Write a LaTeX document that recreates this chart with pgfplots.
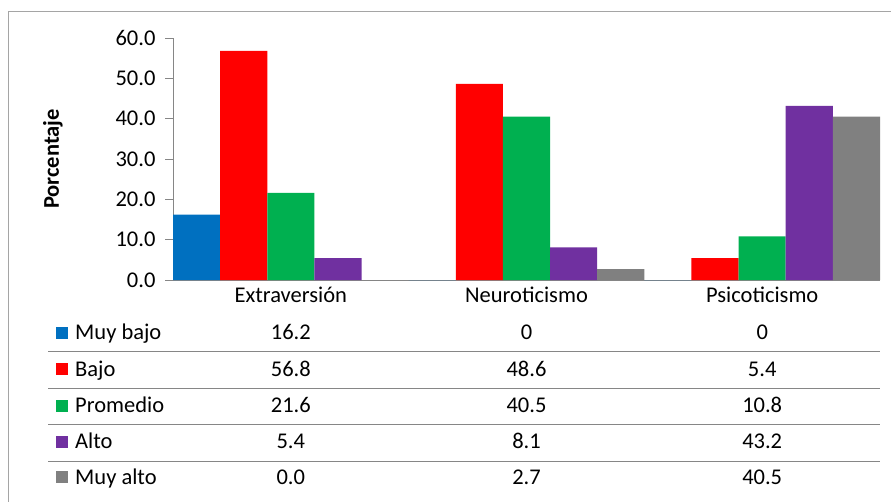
\documentclass[border=0pt]{standalone}
\usepackage{pgfplots}
\pgfplotsset{compat=1.18}
\usepackage{fontspec}
\setmainfont{Carlito}

\definecolor{cMuyBajo}{RGB}{0,112,192}
\definecolor{cBajo}{RGB}{255,0,0}
\definecolor{cProm}{RGB}{0,176,80}
\definecolor{cAlto}{RGB}{112,48,160}
\definecolor{cMuyAlto}{RGB}{128,128,128}
\definecolor{axisgray}{RGB}{134,134,134}
\definecolor{framegray}{RGB}{165,165,165}

\newcommand{\chartfont}{\fontsize{22.5bp}{26bp}\selectfont}

\begin{document}
\begin{tikzpicture}[x=1bp,y=1bp]
\useasboundingbox (0,0) rectangle (891,-502);
\draw[framegray, line width=1bp] (8,-502) -- (8,-12) -- (891,-12);
\begin{axis}[
    at={(173bp,-280bp)}, anchor=south west,
    scale only axis,
    width=707bp, height=242bp,
    xmin=-0.5, xmax=2.5,
    ymin=0, ymax=60,
    ytick={0,10,...,60},
    xtick=\empty,
    axis x line=bottom, axis y line=left,
    axis line style={-, axisgray, line width=1bp},
    y tick style={axisgray, line width=1bp},
    tick align=outside,
    major tick length=8bp,
    yticklabel style={xshift=-6bp, /pgf/number format/.cd, fixed, fixed zerofill, precision=1},
    /pgf/number format/assume math mode=true,
    tick label style={font=\chartfont},
    clip=false,
]
\addplot[ybar, bar width=0.2, bar shift=-0.4, fill=cMuyBajo, draw=none] coordinates {(0,16.2) (1,0) (2,0)};
\addplot[ybar, bar width=0.2, bar shift=-0.2, fill=cBajo, draw=none] coordinates {(0,56.8) (1,48.6) (2,5.4)};
\addplot[ybar, bar width=0.2, bar shift=0, fill=cProm, draw=none] coordinates {(0,21.6) (1,40.5) (2,10.8)};
\addplot[ybar, bar width=0.2, bar shift=0.2, fill=cAlto, draw=none] coordinates {(0,5.4) (1,8.1) (2,43.2)};
\addplot[ybar, bar width=0.2, bar shift=0.4, fill=cMuyAlto, draw=none] coordinates {(0,0.0) (1,2.7) (2,40.5)};
\end{axis}

% axis title
\node[rotate=90, font=\chartfont\bfseries, inner sep=0] at (53,-159) {Porcentaje};

% category labels
\foreach \cx/\lab in {290.8/Extraversión, 526.5/Neuroticismo, 762.2/Psicoticismo}
  \node[anchor=base, inner sep=0, font=\chartfont] at (\cx,-303) {\lab};

% data table
\foreach \yl in {351.7, 388, 424.3, 461}
  \draw[axisgray, line width=1bp] (48,-\yl) -- (880,-\yl);

\foreach \yb/\col/\name/\va/\vb/\vc in {
    340/cMuyBajo/Muy bajo/16.2/0/0,
    376/cBajo/Bajo/56.8/48.6/5.4,
    412.5/cProm/Promedio/21.6/40.5/10.8,
    448.5/cAlto/Alto/5.4/8.1/43.2,
    484/cMuyAlto/Muy alto/0.0/2.7/40.5} {
  \fill[\col] (56,-\yb+1) rectangle (68,-\yb+13);
  \node[anchor=base west, inner sep=0, font=\chartfont] at (75,-\yb) {\name};
  \node[anchor=base, inner sep=0, font=\chartfont] at (290.8,-\yb) {\va};
  \node[anchor=base, inner sep=0, font=\chartfont] at (526.5,-\yb) {\vb};
  \node[anchor=base, inner sep=0, font=\chartfont] at (762.2,-\yb) {\vc};
}
\end{tikzpicture}
\end{document}
